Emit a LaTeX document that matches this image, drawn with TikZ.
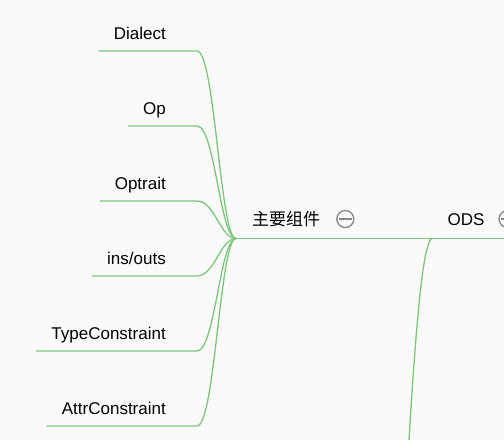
\documentclass[tikz,border=0pt]{standalone}
\usepackage{fontspec}
\setmainfont{Liberation Sans}
\newfontfamily\cjk{Noto Sans CJK SC}
\usepackage{tikz}

\definecolor{branchgreen}{RGB}{125,198,125}
\definecolor{foldgray}{RGB}{135,135,135}
\definecolor{paper}{RGB}{250,250,250}

\tikzset{
  leaf/.style={anchor=base east,inner sep=0pt,font=\fontsize{17}{20}\selectfont},
  topic/.style={anchor=base west,inner sep=0pt,font=\fontsize{17}{20}\selectfont},
  branch/.style={draw=branchgreen,line width=1.3pt},
  fold/.style={circle,draw=foldgray,line width=1.3pt,minimum size=17pt,inner sep=0pt},
  foldmark/.style={draw=foldgray,line width=1.3pt}
}

\begin{document}
\begin{tikzpicture}[x=1pt,y=-1pt]
\useasboundingbox (0,0) rectangle (504,440);
\fill[paper] (0,0) rectangle (504,440);
\clip (0,0) rectangle (504,440);

\coordinate (hub) at (236,238.5);
\coordinate (fork) at (432.5,238.5);
\coordinate (rightend) at (506,238.5);
\coordinate (odsdown) at (409,440);

\node[leaf] (dialect) at (166,39) {Dialect};
\node[leaf] (op) at (166,114) {Op};
\node[leaf] (optrait) at (166,189) {Optrait};
\node[leaf] (insouts) at (166,264) {ins/outs};
\node[leaf] (typecons) at (166,339) {TypeConstraint};
\node[leaf] (attrcons) at (166,414) {AttrConstraint};

\node[topic] (zhuyao) at (252,225.5) {\cjk 主要组件};
\node[topic] (ods) at (447.5,225.7) {ODS};

\node[fold] (zhuyaofold) at (345.3,219) {};
\node[fold] (odsfold) at (507.5,219) {};
\draw[foldmark] ([xshift=-6.5pt]zhuyaofold.center) -- ([xshift=6.5pt]zhuyaofold.center);
\draw[foldmark] ([xshift=-6.5pt]odsfold.center) -- ([xshift=6.5pt]odsfold.center);

\draw[branch] ([shift={(-15,12)}]dialect.base west) -- ([shift={(31,12)}]dialect.base east)
  .. controls +(18,0) and +(-16,0) .. (hub);
\draw[branch] ([shift={(-15,12)}]op.base west) -- ([shift={(31,12)}]op.base east)
  .. controls +(18,0) and +(-16,0) .. (hub);
\draw[branch] ([shift={(-15,12)}]optrait.base west) -- ([shift={(31,12)}]optrait.base east)
  .. controls +(18,0) and +(-16,0) .. (hub);
\draw[branch] ([shift={(-15,12)}]insouts.base west) -- ([shift={(31,12)}]insouts.base east)
  .. controls +(18,0) and +(-16,0) .. (hub);
\draw[branch] ([shift={(-15,12)}]typecons.base west) -- ([shift={(31,12)}]typecons.base east)
  .. controls +(18,0) and +(-16,0) .. (hub);
\draw[branch] ([shift={(-15,12)}]attrcons.base west) -- ([shift={(31,12)}]attrcons.base east)
  .. controls +(18,0) and +(-16,0) .. (hub);

\draw[branch] (hub) -- (fork) -- (rightend);
\draw[branch] (fork) .. controls +(-7.5,0.5) and +(9,-150) .. (odsdown);
\end{tikzpicture}
\end{document}
